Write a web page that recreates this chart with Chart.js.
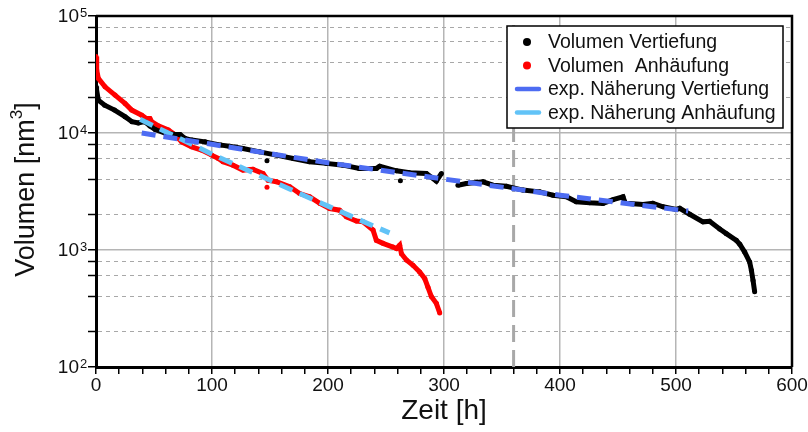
<!DOCTYPE html>
<html>
<head>
<meta charset="utf-8">
<script src="https://cdn.jsdelivr.net/npm/chart.js@4.4.1/dist/chart.umd.min.js"></script>
<style>
  html, body { margin: 0; padding: 0; background: #fff; }
</style>
</head>
<body>
<canvas id="volumeChart" width="808" height="432"></canvas>
<script>
// Vertiefung (depression) volume over time, null = gap in the measurement
const hoursV = [0, 0.5, 2, 7.5, 16, 25, 31, 36.5, 42, 46.5, 51, 59.5, 68, 72.5, 76.7, 82.5, 94, 99.7,
  108, 115, 126.7, 141, 155.5, 170, 184, 198.6, 213, 227, 241.7, 244.6, 259, 270.4, 284.8, 293.4, 297.8,
  302, 312, 319.3, 333.6, 342.2, 353.8, 368, 382.5, 394, 405.5, 414, 425.6, 437, 445.7, 454.3, 455.8,
  458, 460, 471.6, 480, 488.8, 500.3, 503.2, 511.8, 523.3, 529, 537.7, 543.4, 552, 555, 559.2, 563.5,
  565, 566.4, 567.8, 568, 147.4, 148, 262.4];
const volV = [25000, 23300, 19100, 17300, 15700, 13800, 12500, 12200, 12500, 11500, 10700, 10000, 9700, 9700,
  9000, 8700, 8400, 8150, 7880, 7720, 7380, 6900, 6470, 6060, 5670, 5500, 5310, 4980, 4980, 5210, 4750,
  4570, 4510, 3880, 4510, null, 3580, 3700, 3830, 3580, 3510, 3250, 3140, 2940, 2850, 2580, 2530, 2500,
  2690, 2850, 2580, null, 2500, 2450, 2510, 2340, 2220, 2270, 2020, 1740, 1760, 1510, 1380, 1210, 1120,
  960, 790, 670, 550, 440, null, 5780, null, 3900];

// Anhäufung (pile-up) volume over time
const hoursA = [0, 0.6, 2, 7.8, 16.4, 25, 30.8, 39.4, 43.4, 46.5, 48, 53.8, 62.4, 68, 73.9, 82.5, 91, 99.7,
  105.5, 109.5, 118, 126.7, 135.3, 144, 148.3, 155.5, 167, 175.6, 184.2, 193, 201.5, 210, 215.9, 224.5,
  230.2, 238.8, 241.7, 247.4, 256, 259, 261.8, 263.3, 267.6, 273.3, 279, 283.4, 286.2, 289.1, 293.4,
  296.3, 297, 147.4];
const volA = [45000, 34500, 29300, 24800, 21100, 17900, 15700, 14200, 13300, 13300, 12500, 11500, 10600, 9700,
  8400, 7620, 7140, 6470, 6060, 5670, 5310, 4820, 4890, 4510, 3950, 3830, 3470, 3040, 2850, 2500, 2260,
  2190, 1920, 1770, 1740, 1480, 1210, 1140, 1060, 1030, 1100, 930, 820, 740, 650, 570, 480, 400, 350,
  290, null, 3430];

// exponential fits
const fitHoursV = [39.4, 100, 200, 300, 400, 510.5];
const fitVolV = [10000, 8000, 5560, 4040, 2940, 2150];
const fitHoursA = [38, 100, 200, 253];
const fitVolA = [13100, 6590, 2370, 1400];

const markerHour = 360;
const xTickLabels = [0, 100, 200, 300, 400, 500, 600];
const yTickExponents = [2, 3, 4, 5];

const FONT = "'Liberation Sans', Arial, sans-serif";
const toPoints = (xs, ys) => xs.map((x, i) => ({ x, y: ys[i] }));
const isDecade = v => Math.abs(Math.log10(v) - Math.round(Math.log10(v))) < 1e-9;

const legendItems = [
  { text: "Volumen Vertiefung", color: "#000000", dot: true },
  { text: "Volumen  Anhäufung", color: "#ff0000", dot: true },
  { text: "exp. Näherung Vertiefung", color: "#4d6cf2", dot: false },
  { text: "exp. Näherung Anhäufung", color: "#62c3f7", dot: false }
];

const decorations = {
  id: "decorations",
  beforeDraw(chart) {
    const { ctx, width, height } = chart;
    ctx.save();
    ctx.fillStyle = "#fff";
    ctx.fillRect(0, 0, width, height);
    ctx.restore();
  },
  afterDraw(chart) {
    const { ctx, chartArea: a, scales } = chart;
    ctx.save();

    // top and right frame
    ctx.strokeStyle = "#000";
    ctx.lineWidth = 2.5;
    ctx.beginPath();
    ctx.moveTo(a.left, a.top);
    ctx.lineTo(a.right, a.top);
    ctx.lineTo(a.right, a.bottom);
    ctx.stroke();

    ctx.fillStyle = "#111";

    // y tick labels as 10 with superscript exponent
    yTickExponents.forEach(e => {
      const y = scales.y.getPixelForValue(Math.pow(10, e));
      ctx.font = `19px ${FONT}`;
      ctx.textAlign = "right";
      ctx.textBaseline = "middle";
      ctx.fillText("10", 79, y + 1);
      ctx.font = `13px ${FONT}`;
      ctx.textAlign = "left";
      ctx.textBaseline = "top";
      ctx.fillText(String(e), 80, y - 9);
    });

    // x tick labels
    ctx.font = `19px ${FONT}`;
    ctx.textAlign = "center";
    ctx.textBaseline = "middle";
    xTickLabels.forEach(v => {
      ctx.fillText(String(v), scales.x.getPixelForValue(v), 386);
    });

    // axis titles
    ctx.font = `28px ${FONT}`;
    ctx.fillText("Zeit [h]", (a.left + a.right) / 2, 411);

    ctx.save();
    ctx.translate(27, (a.top + a.bottom) / 2 - 2);
    ctx.rotate(-Math.PI / 2);
    const base = "Volumen [nm";
    ctx.font = `27px ${FONT}`;
    const wBase = ctx.measureText(base).width;
    ctx.font = `17px ${FONT}`;
    const wSup = ctx.measureText("3").width;
    ctx.font = `27px ${FONT}`;
    const wEnd = ctx.measureText("]").width;
    const x0 = -(wBase + wSup + wEnd) / 2;
    ctx.textAlign = "left";
    ctx.fillText(base, x0, 0);
    ctx.font = `17px ${FONT}`;
    ctx.fillText("3", x0 + wBase, -10);
    ctx.font = `27px ${FONT}`;
    ctx.fillText("]", x0 + wBase + wSup, 0);
    ctx.restore();

    // legend box
    const box = { x: 507, y: 26, w: 276, h: 102 };
    ctx.fillStyle = "#fff";
    ctx.fillRect(box.x, box.y, box.w, box.h);
    ctx.strokeStyle = "#000";
    ctx.lineWidth = 1.5;
    ctx.strokeRect(box.x, box.y, box.w, box.h);

    ctx.font = `19.5px ${FONT}`;
    ctx.textAlign = "left";
    ctx.textBaseline = "middle";
    legendItems.forEach((item, i) => {
      const y = box.y + 16 + i * 23.5;
      if (item.dot) {
        ctx.fillStyle = item.color;
        ctx.beginPath();
        ctx.arc(527, y, 4, 0, Math.PI * 2);
        ctx.fill();
      } else {
        ctx.strokeStyle = item.color;
        ctx.lineWidth = 4.5;
        ctx.lineCap = "round";
        ctx.beginPath();
        ctx.moveTo(517, y);
        ctx.lineTo(539, y);
        ctx.stroke();
      }
      ctx.fillStyle = "#111";
      ctx.fillText(item.text, 548, y + 1);
    });

    ctx.restore();
  }
};

document.addEventListener("DOMContentLoaded", () => {
  const ctx = document.getElementById("volumeChart").getContext("2d");
  Chart.defaults.font.family = FONT;

  const yGrid = [];
  [100, 1000, 10000].forEach(d => [1, 2, 4, 6, 8].forEach(m => yGrid.push(d * m)));
  yGrid.push(100000);

  const xGrid = [];
  for (let h = 0; h <= 600; h += 20) xGrid.push(h);

  new Chart(ctx, {
    type: "line",
    data: {
      datasets: [
        {
          label: "exp. Näherung Vertiefung",
          data: toPoints(fitHoursV, fitVolV),
          borderColor: "#4d6cf2",
          borderWidth: 5,
          borderDash: [14, 8],
          pointRadius: 0,
          order: 0
        },
        {
          label: "exp. Näherung Anhäufung",
          data: toPoints(fitHoursA, fitVolA),
          borderColor: "#62c3f7",
          borderWidth: 5,
          borderDash: [14, 8],
          pointRadius: 0,
          order: 1
        },
        {
          label: "Volumen Vertiefung",
          data: toPoints(hoursV, volV),
          borderColor: "#000",
          backgroundColor: "#000",
          borderWidth: 5,
          pointRadius: 2.5,
          pointBorderWidth: 0,
          spanGaps: false,
          order: 2
        },
        {
          label: "Volumen  Anhäufung",
          data: toPoints(hoursA, volA),
          borderColor: "#ff0000",
          backgroundColor: "#ff0000",
          borderWidth: 5,
          pointRadius: 2.5,
          pointBorderWidth: 0,
          spanGaps: false,
          order: 3
        },
        {
          label: "marker",
          data: [{ x: markerHour, y: 100 }, { x: markerHour, y: 100000 }],
          borderColor: "#a8a8a8",
          borderWidth: 3,
          borderDash: [17, 8],
          pointRadius: 0,
          order: 4
        }
      ]
    },
    options: {
      responsive: false,
      animation: false,
      layout: { padding: { top: 16, right: 16, left: 0, bottom: 0 } },
      plugins: {
        legend: { display: false },
        tooltip: { enabled: false }
      },
      scales: {
        x: {
          type: "linear",
          min: 0,
          max: 600,
          afterBuildTicks: s => { s.ticks = xGrid.map(v => ({ value: v })); },
          afterFit: s => { s.height = 65; },
          ticks: { display: false },
          grid: {
            color: c => {
              const v = c.tick ? c.tick.value : 0;
              return v > 0 && v < 600 && v % 100 === 0 ? "#b5b5b5" : "rgba(0,0,0,0)";
            },
            lineWidth: 1.5,
            tickLength: 7,
            tickColor: "#000",
            tickWidth: 1.5
          },
          border: { color: "#000", width: 3 }
        },
        y: {
          type: "logarithmic",
          min: 100,
          max: 100000,
          afterBuildTicks: s => { s.ticks = yGrid.map(v => ({ value: v })); },
          afterFit: s => { s.width = 96; },
          ticks: { display: false },
          grid: {
            color: c => {
              const v = c.tick ? c.tick.value : 100;
              if (v <= 100 || v >= 100000) return "rgba(0,0,0,0)";
              return isDecade(v) ? "#b5b5b5" : "#a8a8a8";
            },
            lineWidth: c => (c.tick && isDecade(c.tick.value) ? 1.5 : 1),
            tickLength: 8,
            tickColor: "#000",
            tickWidth: 1.5
          },
          border: {
            color: "#000",
            width: 3,
            dash: c => (c.tick && !isDecade(c.tick.value) ? [4, 4] : [])
          }
        }
      }
    },
    plugins: [decorations]
  });
});
</script>
</body>
</html>
